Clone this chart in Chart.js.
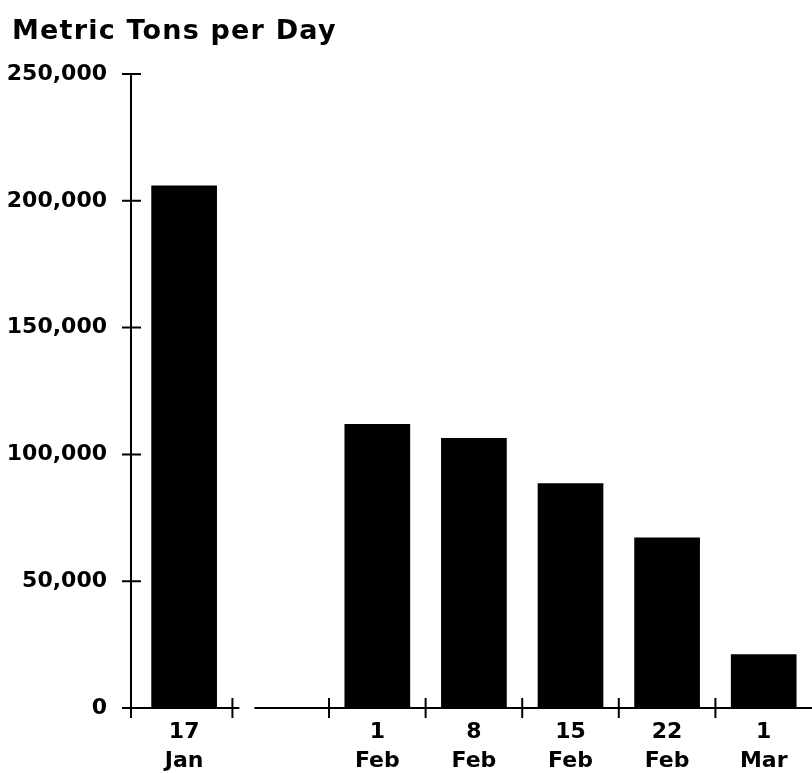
<!DOCTYPE html>
<html>
<head>
<meta charset="utf-8">
<title>Metric Tons per Day</title>
<script src="https://cdn.jsdelivr.net/npm/chart.js@4.4.1/dist/chart.umd.min.js"></script>
<style>
    html, body { margin: 0; padding: 0; background: #fff; overflow: hidden; }
    #chart-container { position: relative; width: 812px; height: 773px; }
</style>
</head>
<body>
<div id="chart-container">
    <canvas id="tonsChart"></canvas>
</div>
<script>
// Data
const chartTitle = 'Metric Tons per Day';
const dayLabels = ['17', '', '1', '8', '15', '22', '1'];
const monthLabels = ['Jan', '', 'Feb', 'Feb', 'Feb', 'Feb', 'Mar'];
const tonsPerDay = [206000, null, 112000, 106500, 88600, 67200, 21200];
const yTicks = [0, 50000, 100000, 150000, 200000, 250000];

const fontFamily = "'DejaVu Sans', 'Liberation Sans', sans-serif";

const barData = [];
tonsPerDay.forEach((value, i) => {
    if (value !== null) {
        barData.push({ x: i, y: value });
    }
});

// Axis lines with crossing tick marks, like the original print
const axesPlugin = {
    id: 'printedAxes',
    afterDatasetsDraw(chart) {
        const ctx = chart.ctx;
        const area = chart.chartArea;
        const xScale = chart.scales.x;
        const yScale = chart.scales.y;
        const bottom = yScale.getPixelForValue(0);
        const top = yScale.getPixelForValue(yTicks[yTicks.length - 1]);

        ctx.save();
        ctx.strokeStyle = '#000';
        ctx.lineWidth = 2;
        ctx.beginPath();

        // y axis
        ctx.moveTo(area.left, top);
        ctx.lineTo(area.left, bottom + 10);
        yTicks.forEach(v => {
            const y = yScale.getPixelForValue(v);
            ctx.moveTo(area.left - 9, y);
            ctx.lineTo(area.left + 10, y);
        });

        // x axis, broken after the January slot
        const breakX = xScale.getPixelForValue(0.5);
        ctx.moveTo(area.left - 9, bottom);
        ctx.lineTo(breakX + 7, bottom);
        ctx.moveTo(breakX + 22, bottom);
        ctx.lineTo(area.right, bottom);
        for (let i = 0; i < dayLabels.length - 1; i++) {
            const x = xScale.getPixelForValue(i + 0.5);
            ctx.moveTo(x, bottom - 10);
            ctx.lineTo(x, bottom + 10);
        }
        ctx.stroke();
        ctx.restore();
    },
    afterDraw(chart) {
        const ctx = chart.ctx;
        ctx.save();
        ctx.fillStyle = '#000';
        ctx.font = 'bold 27px ' + fontFamily;
        ctx.textAlign = 'left';
        ctx.textBaseline = 'alphabetic';
        if ('letterSpacing' in ctx) {
            ctx.letterSpacing = '1.2px';
        }
        ctx.fillText(chartTitle, 12, 39);
        ctx.restore();
    }
};

const ctx = document.getElementById('tonsChart').getContext('2d');
new Chart(ctx, {
    type: 'bar',
    data: {
        datasets: [{
            label: chartTitle,
            data: barData,
            backgroundColor: '#000',
            borderWidth: 0,
            barPercentage: 0.68,
            categoryPercentage: 1
        }]
    },
    options: {
        responsive: true,
        maintainAspectRatio: false,
        animation: false,
        layout: {
            padding: { top: 74, right: 0, bottom: 0, left: 0 }
        },
        plugins: {
            legend: { display: false },
            tooltip: { enabled: false },
            title: { display: false }
        },
        scales: {
            x: {
                type: 'linear',
                offset: false,
                min: -0.55,
                max: 6.5,
                grid: { display: false, drawTicks: false, tickLength: 0 },
                border: { display: false },
                afterBuildTicks: (axis) => {
                    axis.ticks = dayLabels.map((d, i) => ({ value: i }));
                },
                afterFit: (scale) => {
                    scale.height = 65;
                },
                ticks: {
                    autoSkip: false,
                    maxRotation: 0,
                    minRotation: 0,
                    padding: 10,
                    color: '#000',
                    font: { family: fontFamily, size: 22, weight: 'bold', lineHeight: 1.32 },
                    callback: (value) => {
                        const i = Math.round(value);
                        if (!dayLabels[i]) return '';
                        return [dayLabels[i], monthLabels[i]];
                    }
                }
            },
            y: {
                min: yTicks[0],
                max: yTicks[yTicks.length - 1],
                grid: { display: false, drawTicks: false, tickLength: 0 },
                border: { display: false },
                afterBuildTicks: (axis) => {
                    axis.ticks = yTicks.map(v => ({ value: v }));
                },
                afterFit: (scale) => {
                    scale.width = 131;
                },
                ticks: {
                    padding: 24,
                    color: '#000',
                    font: { family: fontFamily, size: 22, weight: 'bold' },
                    callback: (value) => value.toLocaleString('en-US')
                }
            }
        }
    },
    plugins: [axesPlugin]
});
</script>
</body>
</html>
